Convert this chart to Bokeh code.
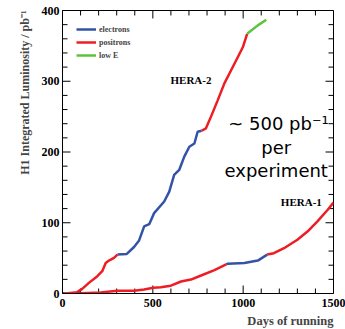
import math
from bokeh.plotting import figure
from bokeh.models import Range1d, Legend, LegendItem, Label, Title, SingleIntervalTicker
from bokeh.embed import file_html
from bokeh.resources import INLINE

# ---------------- data (days of running, integrated luminosity pb^-1) ----------------
# HERA-2
h2_pos_a_days = [0, 30, 81, 109, 146, 193, 220, 239, 257, 285, 304]
h2_pos_a_lumi = [0, 0.3, 1.9, 6.6, 15, 24.4, 31.5, 43.2, 46.5, 50.2, 55]
h2_ele_days = [304, 356, 396, 424, 452, 480, 507, 563, 591, 618, 646, 674, 702, 730, 748, 770]
h2_ele_lumi = [55, 55.9, 65.7, 75, 94.8, 98, 113.6, 130, 144, 167.6, 174.6, 193.4, 207.5, 212, 228.6, 230]
h2_pos_b_days = [770, 794, 822, 859, 896, 924, 970, 998, 1022]
h2_pos_b_lumi = [230, 233.5, 250, 273, 297, 311, 334, 348, 367]
h2_lowe_days = [1022, 1081, 1128]
h2_lowe_lumi = [367, 379, 387]

# HERA-1
h1_ele_a_days = [0, 50, 100]
h1_ele_a_lumi = [0, 0.2, 0.5]
h1_pos_a_days = [100, 211, 304, 396, 452, 502, 544, 600, 656, 711, 767, 841, 906]
h1_pos_a_lumi = [0.5, 1.4, 3.8, 3.8, 5.6, 8, 8.9, 11, 17, 19.7, 25.4, 33, 41]
h1_ele_b_days = [906, 915, 1007, 1081, 1133]
h1_ele_b_lumi = [41, 42.2, 43.2, 46.5, 55]
h1_pos_b_days = [1133, 1170, 1226, 1300, 1356, 1411, 1467, 1500]
h1_pos_b_lumi = [55, 57, 64, 76, 87.6, 102, 118, 128.6]

legend_labels = ["electrons", "positrons", "low E"]
x_range_days = (0, 1500)
y_range_lumi = (0, 400)
x_major_ticks = [0, 500, 1000, 1500]
x_minor_ticks = [100, 200, 300, 400, 600, 700, 800, 900, 1100, 1200, 1300, 1400]
y_major_ticks = [0, 100, 200, 300, 400]
y_minor_ticks = [20, 40, 60, 80, 120, 140, 160, 180, 220, 240, 260, 280, 320, 340, 360, 380]

BLUE = "#3553a6"
RED = "#ee1c24"
GREEN = "#5cc43c"
SERIF = "Liberation Serif"

W, H = 345, 329
BL, BR, BT, BB = 62, 12, 10, 35
p = figure(width=W, height=H, output_backend="svg", toolbar_location=None,
           x_range=Range1d(*x_range_days), y_range=Range1d(*y_range_lumi),
           min_border_left=BL, min_border_right=BR, min_border_top=BT, min_border_bottom=BB)
p.grid.visible = False
p.outline_line_color = "black"
p.outline_line_width = 1
p.background_fill_color = "white"
p.border_fill_color = "white"

def style_axis(ax, ticker):
    ax.ticker = ticker
    ax.axis_line_color = "black"
    ax.major_tick_line_color = None
    ax.minor_tick_line_color = None
    ax.major_tick_in = 0
    ax.major_tick_out = 0
    ax.minor_tick_in = 0
    ax.minor_tick_out = 0
    ax.major_label_text_font = SERIF
    ax.major_label_text_font_style = "bold"
    ax.major_label_text_font_size = "12px"
    ax.major_label_text_color = "black"

style_axis(p.xaxis[0], SingleIntervalTicker(interval=500, num_minor_ticks=5))
style_axis(p.yaxis[0], SingleIntervalTicker(interval=100, num_minor_ticks=5))
p.xaxis[0].major_label_standoff = 5
p.yaxis[0].major_label_standoff = 3

# inward ticks on all four edges of the frame
fw = W - BL - BR
fh = H - BT - BB
dx_px = (x_range_days[1] - x_range_days[0]) / fw
dy_px = (y_range_lumi[1] - y_range_lumi[0]) / fh
x_lo, x_hi = x_range_days
y_lo, y_hi = y_range_lumi

def hticks(xs, y_edge, length_px, sign):
    n = len(xs)
    p.segment(x0=xs, y0=[y_edge] * n, x1=xs, y1=[y_edge + sign * length_px * dy_px] * n,
              color="black", line_width=1)

def vticks(ys, x_edge, length_px, sign):
    n = len(ys)
    p.segment(x0=[x_edge] * n, y0=ys, x1=[x_edge + sign * length_px * dx_px] * n, y1=ys,
              color="black", line_width=1)

hticks(x_major_ticks, y_hi, 8, -1)
hticks(x_minor_ticks, y_hi, 5, -1)
hticks(x_major_ticks, y_lo, 8, 1)
hticks(x_minor_ticks, y_lo, 5, 1)
vticks(y_major_ticks, x_hi, 8, -1)
vticks(y_minor_ticks, x_hi, 5, -1)
vticks(y_major_ticks, x_lo, 8, 1)
vticks(y_minor_ticks, x_lo, 5, 1)

LW = 2.5
r_e1 = p.line(h1_ele_a_days, h1_ele_a_lumi, color=BLUE, line_width=LW)
r_e2 = p.line(h2_ele_days, h2_ele_lumi, color=BLUE, line_width=LW)
r_e3 = p.line(h1_ele_b_days, h1_ele_b_lumi, color=BLUE, line_width=LW)
r_p1 = p.line(h2_pos_a_days, h2_pos_a_lumi, color=RED, line_width=LW)
r_p2 = p.line(h2_pos_b_days, h2_pos_b_lumi, color=RED, line_width=LW)
r_p3 = p.line(h1_pos_a_days, h1_pos_a_lumi, color=RED, line_width=LW)
r_p4 = p.line(h1_pos_b_days, h1_pos_b_lumi, color=RED, line_width=LW)
r_g = p.line(h2_lowe_days, h2_lowe_lumi, color=GREEN, line_width=LW)

legend = Legend(items=[LegendItem(label=legend_labels[0], renderers=[r_e2]),
                       LegendItem(label=legend_labels[1], renderers=[r_p1]),
                       LegendItem(label=legend_labels[2], renderers=[r_g])],
                location="top_left")
legend.label_text_font = SERIF
legend.label_text_font_style = "bold"
legend.label_text_font_size = "8px"
legend.glyph_width = 20
legend.glyph_height = 10
legend.label_height = 10
legend.label_standoff = 3
legend.spacing = 3
legend.padding = 14
legend.margin = 0
legend.background_fill_alpha = 0
legend.border_line_alpha = 0
p.add_layout(legend)

def add_label(x, y, text, size, font=SERIF, style="bold", align="center", baseline="middle"):
    p.add_layout(Label(x=x, y=y, text=text, text_font=font, text_font_style=style,
                       text_font_size=size, text_align=align, text_baseline=baseline,
                       text_color="black"))

add_label(711, 302, "HERA-2", "11px")
add_label(1322, 130, "HERA-1", "11px")
add_label(1195, 240, "~ 500 pb\u207b\u00b9", "18px", font="DejaVu Sans", style="normal", baseline="alphabetic")
add_label(1183, 206, "per", "18px", font="DejaVu Sans", style="normal", baseline="alphabetic")
add_label(1183, 174, "experiment", "18px", font="DejaVu Sans", style="normal", baseline="alphabetic")

ytitle = Title(text="H1 Integrated Luminosity / pb\u207b\u00b9", align="right", text_font=SERIF,
               text_font_style="bold", text_font_size="12px", standoff=13)
p.add_layout(ytitle, "left")
xtitle = Title(text="Days of running", align="right", text_font=SERIF,
               text_font_style="bold", text_font_size="12.5px", standoff=4)
p.add_layout(xtitle, "below")

open("out.html", "w").write(file_html(p, INLINE))
